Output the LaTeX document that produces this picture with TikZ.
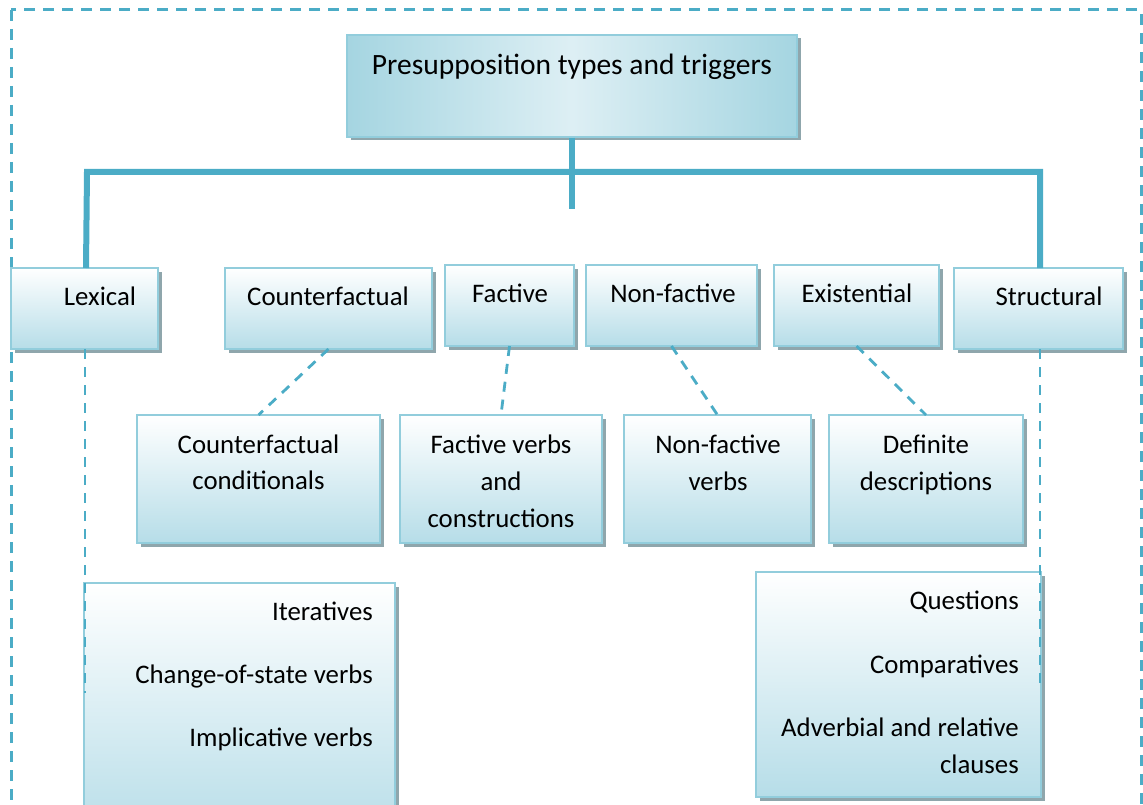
\documentclass[tikz,border=0pt]{standalone}
\usepackage{fontspec}
\setmainfont{Carlito}
\usetikzlibrary{shadows,calc}
\definecolor{teal1}{HTML}{4BACC6}
\definecolor{bord}{HTML}{92CDDC}
\definecolor{boxb}{HTML}{B6DDE8}
\definecolor{shad}{HTML}{8FA6AC}
\definecolor{tside}{HTML}{A5D5E1}
\definecolor{tmid}{HTML}{DDEFF4}
\tikzset{
  box/.style={draw=bord, line width=2.5pt, top color=white, bottom color=boxb,
    inner sep=0pt, outer sep=0pt, anchor=north west,
    drop shadow={shadow xshift=3.5pt, shadow yshift=-3.5pt, fill=shad, opacity=1}},
  txt/.style={font=\fontsize{26.8}{37}\selectfont, inner sep=0pt, anchor=base},
  rtxt/.style={txt, anchor=base east},
  trunk/.style={draw=teal1, line width=6pt, line join=miter},
  link/.style={draw=teal1, line width=2.8pt, dash pattern=on 10pt off 8pt},
  frame/.style={draw=teal1, line width=3pt, dash pattern=on 11pt off 8pt},
}
\newcommand\boxat[6][]{\node[box,#1, minimum width={#5-#3}, minimum height={#6-#4}] (#2) at (#3,#4) {};}
\begin{document}
\begin{tikzpicture}[x=1pt,y=-1pt]
\useasboundingbox (0,0) rectangle (1143,805);
\begin{scope}
\clip (0,0) rectangle (1143,805);
% outer dashed frame
\draw[frame] (11,10) rectangle (1141,830);
% boxes
\boxat[left color=tside, right color=tside, middle color=tmid]{title}{347}{35}{797}{137}
\boxat{lex}{11}{268}{158}{349}
\boxat{cf}{225}{268}{432}{349}
\boxat{fac}{445}{265}{574}{346}
\boxat{nf}{586}{265}{757}{346}
\boxat{ex}{774}{265}{939}{346}
\boxat{str}{954}{268}{1123}{349}
\boxat{cfc}{137}{415}{380}{543}
\boxat{fvc}{400}{415}{602}{543}
\boxat{nfv}{624}{415}{811}{543}
\boxat{dd}{829}{415}{1023}{543}
\boxat{lexsub}{84}{583}{395}{840}
\boxat{strsub}{756}{572}{1041}{797}
% texts
\node[txt, font=\fontsize{29.5}{36}\selectfont] (t-title) at (572,75) {Presupposition types and triggers};
\node[txt] (t-lex) at (100,305) {Lexical};
\node[txt] (t-cf) at (328,305) {Counterfactual};
\node[txt] (t-fac) at (510,302) {Factive};
\node[txt] (t-nf) at (673,302) {Non-factive};
\node[txt] (t-ex) at (857,302) {Existential};
\node[txt] (t-str) at (1049,305) {Structural};
\node[txt] (t-cfc1) at (258.5,453) {Counterfactual};
\node[txt] (t-cfc2) at (258.5,489) {conditionals};
\node[txt] (t-fvc1) at (501,453) {Factive verbs};
\node[txt] (t-fvc2) at (501,490) {and};
\node[txt] (t-fvc3) at (501,527) {constructions};
\node[txt] (t-nfv1) at (718,453) {Non-factive};
\node[txt] (t-nfv2) at (718,490) {verbs};
\node[txt] (t-dd1) at (926,453) {Definite};
\node[txt] (t-dd2) at (926,490) {descriptions};
\node[rtxt] (t-it) at (373,620) {Iteratives};
\node[rtxt] (t-cs) at (373,683) {Change-of-state verbs};
\node[rtxt] (t-im) at (373,746) {Implicative verbs};
\node[rtxt] (t-q) at (1019,609) {Questions};
\node[rtxt] (t-co) at (1019,673) {Comparatives};
\node[rtxt] (t-ad1) at (1019,736) {Adverbial and relative};
\node[rtxt] (t-ad2) at (1019,773) {clauses};
% trunk connectors
\coordinate (stem) at (572,209);
\coordinate (hl) at (87,172);
\coordinate (hr) at (1040,172);
\draw[trunk] ([yshift=-1pt]title.south) -- (stem);
\draw[trunk] ([xshift=1.5pt]lex.north) -- (hl) -- (hr) -- ([xshift=1.5pt]str.north);
% dashed connectors
\coordinate (lexend) at (85,693);
\coordinate (strend) at (1040,683);
\draw[link] ([xshift=0.5pt]lex.south) -- (lexend);
\draw[link] ([xshift=1.5pt]str.south) -- (strend);
\draw[link] (cf.south) -- (cfc.north);
\draw[link] (fac.south) -- (fvc.north);
\draw[link] (nf.south) -- (nfv.north);
\draw[link] (ex.south) -- (dd.north);
\end{scope}
\end{tikzpicture}
\end{document}
